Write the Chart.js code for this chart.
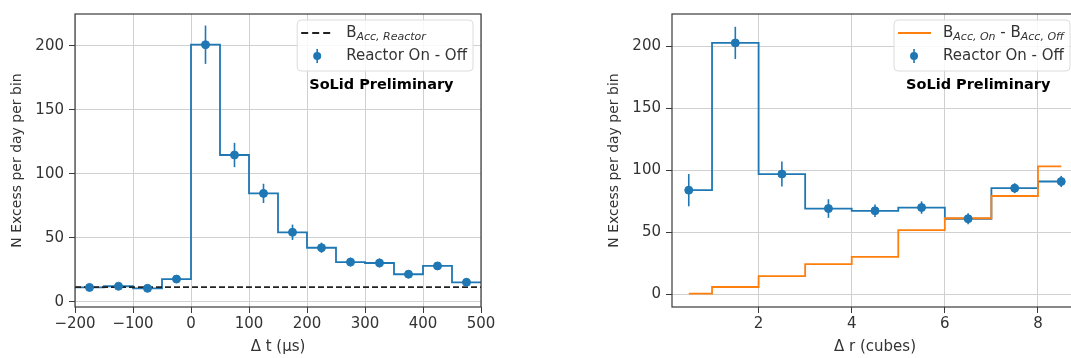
<!DOCTYPE html>
<html>
<head>
<meta charset="utf-8">
<script src="https://cdn.jsdelivr.net/npm/chart.js@4.4.0/dist/chart.umd.min.js"></script>
<style>
html, body { margin: 0; padding: 0; background: #fff; overflow: hidden; width: 1071px; height: 358px; }
.box { position: absolute; top: 0; width: 500px; height: 358px; }
</style>
</head>
<body>
<div class="box" style="left:0"><canvas id="dt"></canvas></div>
<div class="box" style="left:597px"><canvas id="dr"></canvas></div>
<script>
// left panel: time difference between prompt and delayed signal
const dtBinEdges = [-200, -150, -100, -50, 0, 50, 100, 150, 200, 250, 300, 350, 400, 450, 500]
const dtCenters = [-175, -125, -75, -25, 25, 75, 125, 175, 225, 275, 325, 375, 425, 475]
const dtExcess = [11.3, 12.2, 10.6, 17.8, 201, 114.8, 84.8, 54.4, 42.3, 31.1, 30.4, 21.6, 28.1, 15.3]
const dtErr = [2, 2, 2, 2.5, 15, 9.5, 7.5, 6, 4, 3.5, 3.5, 3, 3, 3]
const dtAccidental = 11.5
const dtTicksX = [-200, -100, 0, 100, 200, 300, 400, 500]

// right panel: distance between prompt and delayed signal
const drCenters = [0.5, 1.5, 2.5, 3.5, 4.5, 5.5, 6.5, 7.5, 8.5]
const drExcess = [84.1, 202.7, 97.1, 69.3, 67.5, 70.1, 61.1, 85.7, 91.1]
const drErr = [13, 13, 10, 7.5, 5, 5, 4.5, 4, 4.5]
const drAccDiff = [0.8, 6.1, 14.8, 24.5, 30.3, 52, 61.5, 79.4, 103.2]
const drTicksX = [2, 4, 6, 8]

const yTicks = [0, 50, 100, 150, 200]
const blue = '#1f77b4'
const orange = '#ff7f0e'
const font = 'DejaVu Sans'

Chart.defaults.font.family = font
Chart.defaults.font.size = 15
Chart.defaults.color = '#333'

function partFont(p) {
    return p.sub ? `italic 11px "${font}"` : `15px "${font}"`
}

// draws sub-scripted legend labels piece by piece
function drawRich(ctx, parts, x, y) {
    parts.forEach(p => {
        ctx.font = partFont(p)
        ctx.fillText(p.t, x, p.sub ? y + 4 : y)
        x += ctx.measureText(p.t).width
    })
    return x
}

function drawWidth(ctx, parts) {
    let w = 0
    parts.forEach(p => {
        ctx.font = partFont(p)
        w += ctx.measureText(p.t).width
    })
    return w
}

const decor = {
    id: 'decor',
    afterDatasetsDraw(chart, args, opts) {
        const {ctx, chartArea: a, scales: {x, y}} = chart
        ctx.save()

        // error bars
        ctx.strokeStyle = blue
        ctx.lineWidth = 1.6
        opts.centers.forEach((c, i) => {
            const px = x.getPixelForValue(c)
            ctx.beginPath()
            ctx.moveTo(px, y.getPixelForValue(opts.values[i] - opts.errors[i]))
            ctx.lineTo(px, y.getPixelForValue(opts.values[i] + opts.errors[i]))
            ctx.stroke()
        })

        // frame
        ctx.strokeStyle = '#3a3a3a'
        ctx.lineWidth = 1.2
        ctx.strokeRect(a.left, a.top, a.width, a.height)

        // legend box
        ctx.textBaseline = 'middle'
        let w = 0
        opts.legend.forEach(e => { w = Math.max(w, drawWidth(ctx, e.parts)) })
        const bw = 49 + w + 6, bh = 51
        const bx = a.right - 8 - bw, by = a.top + 6
        ctx.fillStyle = 'rgba(255,255,255,0.85)'
        ctx.strokeStyle = '#dcdcdc'
        ctx.lineWidth = 1
        ctx.beginPath()
        ctx.roundRect(bx, by, bw, bh, 4)
        ctx.fill()
        ctx.stroke()

        opts.legend.forEach((e, i) => {
            const ly = by + 13 + i * 23
            if (e.kind === 'marker') {
                ctx.fillStyle = blue
                ctx.beginPath()
                ctx.arc(bx + 20, ly, 4, 0, Math.PI * 2)
                ctx.fill()
                ctx.strokeStyle = blue
                ctx.lineWidth = 1.6
                ctx.beginPath()
                ctx.moveTo(bx + 20, ly - 7)
                ctx.lineTo(bx + 20, ly + 7)
                ctx.stroke()
            } else {
                ctx.strokeStyle = e.color
                ctx.lineWidth = 2
                ctx.setLineDash(e.dash || [])
                ctx.beginPath()
                ctx.moveTo(bx + 4, ly)
                ctx.lineTo(bx + 37, ly)
                ctx.stroke()
                ctx.setLineDash([])
            }
            ctx.fillStyle = '#333'
            drawRich(ctx, e.parts, bx + 49, ly)
        })

        // preliminary stamp
        ctx.fillStyle = '#000'
        ctx.font = `bold 14.5px "${font}"`
        ctx.fillText('SoLid Preliminary', bx + 12, by + 65)
        ctx.restore()
    }
}

function axes(xMin, xMax, xTicks, xTitle, yMin, yMax) {
    const grid = {color: '#d0d0d0', lineWidth: 1, tickLength: 6, tickColor: '#3a3a3a', tickWidth: 1}
    return {
        x: {
            type: 'linear', min: xMin, max: xMax,
            afterBuildTicks: s => { s.ticks = xTicks.map(v => ({value: v})) },
            afterFit: s => { s.height = 51 },
            ticks: {padding: 2, maxRotation: 0, callback: v => String(v).replace('-', '\u2212')},
            grid: grid,
            border: {display: false},
            title: {display: true, text: xTitle, padding: {top: 0, bottom: 2}}
        },
        y: {
            type: 'linear', min: yMin, max: yMax,
            afterBuildTicks: s => { s.ticks = yTicks.map(v => ({value: v})) },
            afterFit: s => { s.width = 75 },
            ticks: {padding: 5},
            grid: grid,
            border: {display: false},
            title: {display: true, text: 'N Excess per day per bin', font: {size: 14}, padding: {top: 9, bottom: 0}}
        }
    }
}

function baseOptions(top) {
    return {
        responsive: true,
        maintainAspectRatio: false,
        animation: false,
        layout: {padding: {left: 0, right: 19, top: top, bottom: 0}},
        plugins: {legend: {display: false}, tooltip: {enabled: false}}
    }
}

const dtOptions = baseOptions(8.5)
dtOptions.scales = axes(-200, 500, dtTicksX, '\u0394 t (\u03bcs)', -4, 225)
dtOptions.plugins.decor = {
    centers: dtCenters, values: dtExcess, errors: dtErr,
    legend: [
        {kind: 'line', color: '#222', dash: [7, 4], parts: [{t: 'B'}, {t: 'Acc, Reactor', sub: true}]},
        {kind: 'marker', parts: [{t: 'Reactor On - Off'}]}
    ]
}

new Chart(document.querySelector('#dt'), {
    type: 'scatter',
    data: {
        datasets: [
            {
                data: dtBinEdges.map((e, i) => ({x: e, y: dtExcess[Math.min(i, dtExcess.length - 1)]})),
                showLine: true, stepped: 'before', borderColor: blue, borderWidth: 1.8,
                pointRadius: 0, order: 2
            },
            {
                data: [{x: dtBinEdges[0], y: dtAccidental}, {x: dtBinEdges[dtBinEdges.length - 1], y: dtAccidental}],
                showLine: true, borderColor: '#222', borderWidth: 1.8, borderDash: [6, 3],
                pointRadius: 0, order: 1
            },
            {
                data: dtCenters.map((c, i) => ({x: c, y: dtExcess[i]})),
                backgroundColor: blue, borderColor: blue, pointRadius: 4, order: 0
            }
        ]
    },
    options: dtOptions,
    plugins: [decor]
})

const drOptions = baseOptions(6.5)
drOptions.scales = axes(0.14, 8.86, drTicksX, '\u0394 r (cubes)', -10, 226)
drOptions.plugins.decor = {
    centers: drCenters, values: drExcess, errors: drErr,
    legend: [
        {kind: 'line', color: orange, parts: [{t: 'B'}, {t: 'Acc, On', sub: true}, {t: ' - B'}, {t: 'Acc, Off', sub: true}]},
        {kind: 'marker', parts: [{t: 'Reactor On - Off'}]}
    ]
}

new Chart(document.querySelector('#dr'), {
    type: 'scatter',
    data: {
        datasets: [
            {
                data: drCenters.map((c, i) => ({x: c, y: drExcess[i]})),
                showLine: true, stepped: 'middle', borderColor: blue, borderWidth: 1.8,
                pointRadius: 0, order: 2
            },
            {
                data: drCenters.map((c, i) => ({x: c, y: drAccDiff[i]})),
                showLine: true, stepped: 'middle', borderColor: orange, borderWidth: 1.8,
                pointRadius: 0, order: 1
            },
            {
                data: drCenters.map((c, i) => ({x: c, y: drExcess[i]})),
                backgroundColor: blue, borderColor: blue, pointRadius: 4, order: 0
            }
        ]
    },
    options: drOptions,
    plugins: [decor]
})
</script>
</body>
</html>
